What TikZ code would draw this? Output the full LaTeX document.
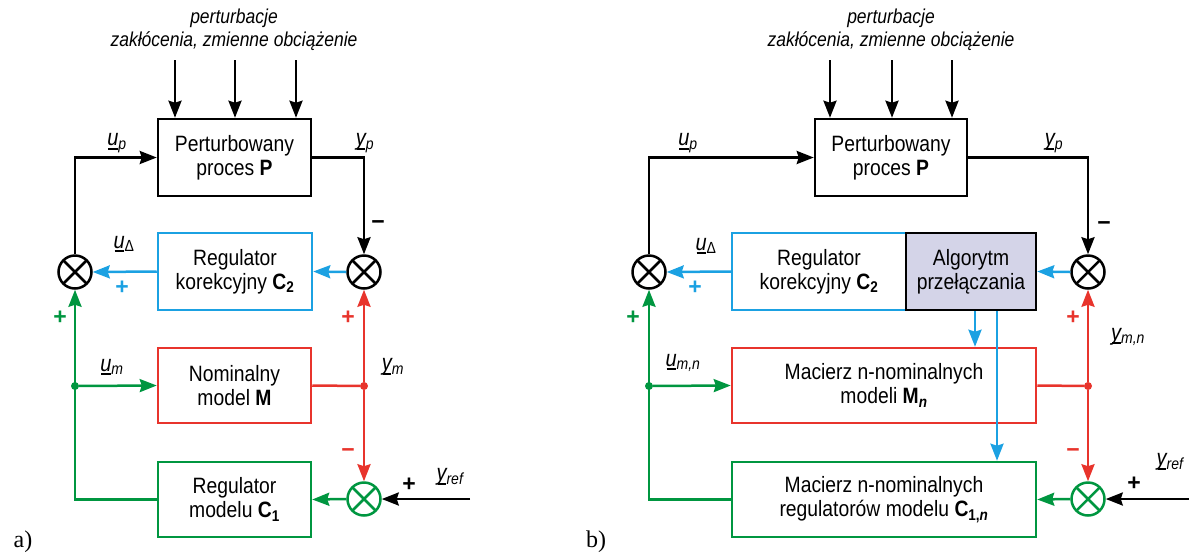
\documentclass[tikz,border=0pt]{standalone}
\usepackage{fontspec}
\setmainfont{Liberation Sans}
\newfontfamily\narrowsans{Liberation Sans}[FakeStretch=0.87]
\newfontfamily\serifab{Liberation Serif}
\usetikzlibrary{arrows.meta}
\definecolor{cblue}{RGB}{27,161,226}
\definecolor{cred}{RGB}{232,52,44}
\definecolor{cgreen}{RGB}{0,150,64}
\definecolor{clav}{RGB}{212,212,232}
\newcommand\ulbar[1]{\setbox0\hbox{#1}\rlap{\kern1pt\rule[-4pt]{\dimexpr\wd0-1.5pt\relax}{1.8pt}}\box0}
\tikzset{
 ln/.style={line width=2.5pt},
 arr/.style={line width=2.5pt,-{Stealth[length=17pt,width=13pt,inset=2pt]}},
 box/.style={draw,line width=2.5pt,inner sep=0pt,align=center,font=\narrowsans\fontsize{22.2}{24}\selectfont},
 sumnode/.style={circle,draw=#1,line width=2.5pt,minimum size=33pt,inner sep=0pt,
   path picture={\draw[#1,line width=2.5pt] (path picture bounding box.north west) -- (path picture bounding box.south east) (path picture bounding box.south west) -- (path picture bounding box.north east);}},
 sumnode/.default=black,
 lab/.style={inner sep=0pt,font=\narrowsans\fontsize{23}{24}\selectfont\itshape},
 sgn/.style={inner sep=0pt,font=\fontsize{23}{24}\selectfont\bfseries},
 dotnode/.style={circle,fill,inner sep=0pt,minimum size=8pt},
 ttl/.style={align=center,inner sep=0pt,font=\narrowsans\fontsize{20.1}{23}\selectfont\itshape},
 capt/.style={inner sep=0pt,font=\fontsize{24}{26}\serifab}
}
\begin{document}
\begin{tikzpicture}[x=1pt,y=-1pt]
\useasboundingbox (0,0) rectangle (1189,558);
% ================= a) =================
\node[ttl] (t1) at (234,30) {perturbacje\\zakłócenia, zmienne obciążenie};
\node[box,minimum width=153pt,minimum height=77pt] (P1) at (234.5,157.5) {Perturbowany\\proces \textbf{P}};
\node[box,draw=cblue,minimum width=154pt,minimum height=77pt] (C21) at (235,271.5) {Regulator\\korekcyjny \textbf{C\textsubscript{2}}};
\node[box,draw=cred,minimum width=153pt,minimum height=75pt] (M1) at (234.5,385.5) {Nominalny\\model \textbf{M}};
\node[box,draw=cgreen,minimum width=153pt,minimum height=75pt] (C11) at (234.5,499.5) {Regulator\\modelu \textbf{C\textsubscript{1}}};
\node[sumnode] (LS1) at (75,272) {};
\node[sumnode] (RS1) at (364,272) {};
\node[sumnode=cgreen] (GS1) at (364,499) {};
\node[dotnode,cgreen] (gd1) at (75,386) {};
\node[dotnode,cred] (rd1) at (364,386) {};
\coordinate (d11) at (175,60);
\coordinate (d12) at (235,60);
\coordinate (d13) at (296,60);
\coordinate (yr1) at (470,499);
\foreach \d in {d11,d12,d13} \draw[arr] (\d) -- (\d |- P1.north);
\draw[arr] (LS1.north) |- (P1.west);
\draw[arr] (P1.east) -| (RS1.north);
\draw[arr,cblue] (RS1.west) -- (C21.east);
\draw[arr,cblue] (C21.west) -- (LS1.east);
\draw[ln,cred] (M1.east) -- (rd1);
\draw[arr,cred] (rd1) -- (RS1.south);
\draw[arr,cred] (rd1) -- (GS1.north);
\draw[arr,cgreen] (GS1.west) -- (C11.east);
\draw[arr,cgreen] (C11.west) -| (LS1.south);
\draw[arr,cgreen] (gd1) -- (M1.west);
\draw[arr] (yr1) -- (GS1.east);
\node[lab] (lup1) at (117,143) {\ulbar{u}\textsubscript{p}};
\node[lab] (lyp1) at (365,143) {\ulbar{y}\textsubscript{p}};
\node[lab] (lud1) at (124,244) {\ulbar{u}\textsubscript{\upshape Δ}};
\node[lab] (lum1) at (112,367) {\ulbar{u}\textsubscript{m}};
\node[lab] (lym1) at (393,367) {\ulbar{y}\textsubscript{m}};
\node[lab] (lyr1) at (450,477) {\ulbar{y}\textsubscript{ref}};
\node[sgn] (s11) at (378,225) {−};
\node[sgn,cblue] (s12) at (122,288) {+};
\node[sgn,cgreen] (s13) at (60,318) {+};
\node[sgn,cred] (s14) at (348,318) {+};
\node[sgn,cred] (s15) at (348,453) {−};
\node[sgn] (s16) at (409,485) {+};
\node[capt] (ca) at (23,542) {a)};
% ================= b) =================
\node[ttl] (t2) at (891,30) {perturbacje\\zakłócenia, zmienne obciążenie};
\node[box,minimum width=152pt,minimum height=77pt] (P2) at (891,157.5) {Perturbowany\\proces \textbf{P}};
\node[box,draw=cblue,minimum width=174pt,minimum height=77pt] (C22) at (819,271.5) {Regulator\\korekcyjny \textbf{C\textsubscript{2}}};
\node[box,fill=clav,minimum width=130pt,minimum height=77pt] (Alg) at (971,271.5) {Algorytm\\przełączania};
\node[box,draw=cred,minimum width=304pt,minimum height=75pt] (M2) at (884,385.5) {Macierz n-nominalnych\\modeli \textbf{M\textsubscript{\itshape n}}};
\node[box,draw=cgreen,minimum width=304pt,minimum height=75pt] (C12) at (884,499.5) {Macierz n-nominalnych\\regulatorów modelu \textbf{C\textsubscript{1,\itshape n}}};
\node[sumnode] (LS2) at (649,272) {};
\node[sumnode] (RS2) at (1088,272) {};
\node[sumnode=cgreen] (GS2) at (1088,499) {};
\node[dotnode,cgreen] (gd2) at (649,386) {};
\node[dotnode,cred] (rd2) at (1088,386) {};
\coordinate (d21) at (830,60);
\coordinate (d22) at (892,60);
\coordinate (d23) at (952,60);
\coordinate (b21) at (975,0);
\coordinate (b22) at (997,0);
\coordinate (yr2) at (1189,499);
\foreach \d in {d21,d22,d23} \draw[arr] (\d) -- (\d |- P2.north);
\draw[arr] (LS2.north) |- (P2.west);
\draw[arr] (P2.east) -| (RS2.north);
\draw[arr,cblue] (RS2.west) -- (Alg.east);
\draw[arr,cblue] (C22.west) -- (LS2.east);
\draw[arr,cblue] (b21 |- Alg.south) -- (b21 |- M2.north);
\draw[arr,cblue] (b22 |- Alg.south) -- (b22 |- C12.north);
\draw[ln,cred] (M2.east) -- (rd2);
\draw[arr,cred] (rd2) -- (RS2.south);
\draw[arr,cred] (rd2) -- (GS2.north);
\draw[arr,cgreen] (GS2.west) -- (C12.east);
\draw[arr,cgreen] (C12.west) -| (LS2.south);
\draw[arr,cgreen] (gd2) -- (M2.west);
\draw[arr] (yr2) -- (GS2.east);
\node[lab] (lup2) at (688,143) {\ulbar{u}\textsubscript{p}};
\node[lab] (lyp2) at (1054,143) {\ulbar{y}\textsubscript{p}};
\node[lab] (lud2) at (706,246) {\ulbar{u}\textsubscript{\upshape Δ}};
\node[lab] (lum2) at (683,363) {\ulbar{u}\textsubscript{m,n}};
\node[lab] (lym2) at (1128,337) {\ulbar{y}\textsubscript{m,n}};
\node[lab] (lyr2) at (1170,462) {\ulbar{y}\textsubscript{ref}};
\node[sgn] (s21) at (1104,226) {−};
\node[sgn,cblue] (s22) at (695,288) {+};
\node[sgn,cgreen] (s23) at (633,318) {+};
\node[sgn,cred] (s24) at (1073,318) {+};
\node[sgn,cred] (s25) at (1073,453) {−};
\node[sgn] (s26) at (1134,484) {+};
\node[capt] (cb) at (596,542) {b)};
\end{tikzpicture}
\end{document}
